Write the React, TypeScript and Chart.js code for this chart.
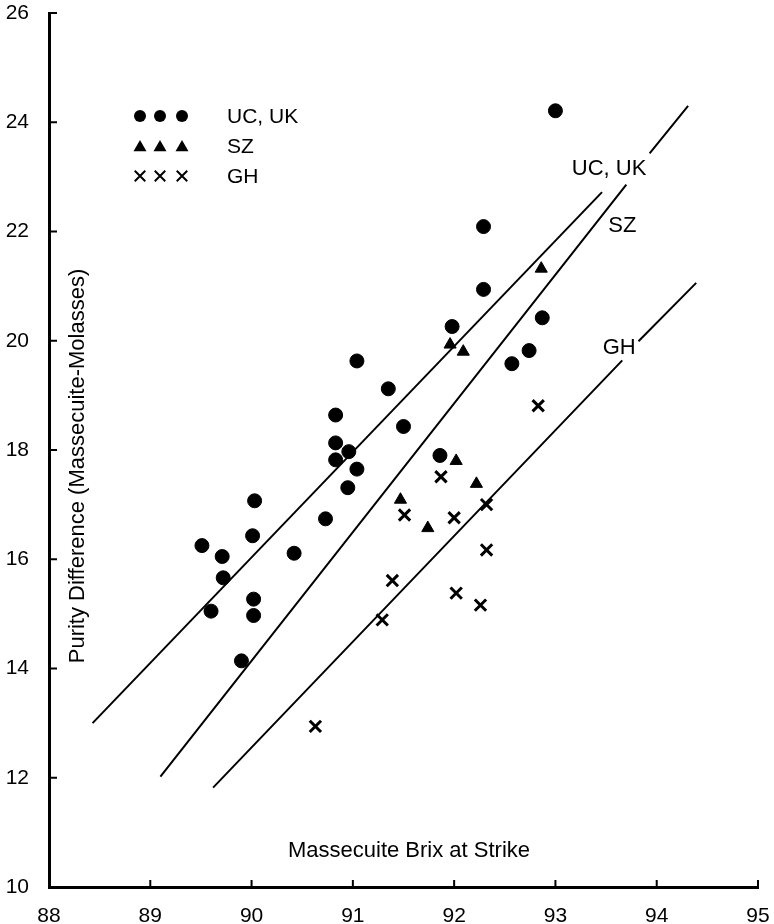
import React, { useEffect, useRef } from 'react';
import { Chart, registerables } from 'chart.js';

Chart.register(...registerables);

const FONT = '"Liberation Sans", Arial, Helvetica, sans-serif';

// Axis ticks
const xTicks = [88, 89, 90, 91, 92, 93, 94, 95];
const yTicks = [10, 12, 14, 16, 18, 20, 22, 24, 26];

// Series names
const seriesNames = ['UC, UK', 'SZ', 'GH'];

// UC, UK (circles)
const ucukX = [93.0, 92.29, 92.29, 92.87, 91.98, 92.74, 92.57, 91.04, 91.35, 90.83, 91.5, 90.83, 90.96, 90.83, 91.04, 91.86, 90.95, 90.03, 90.73, 90.01, 89.51, 89.71, 90.42, 89.72, 89.6, 90.02, 90.02, 89.9];
const ucukY = [24.21, 22.09, 20.94, 20.42, 20.26, 19.82, 19.58, 19.63, 19.12, 18.64, 18.43, 18.13, 17.97, 17.82, 17.65, 17.9, 17.31, 17.07, 16.74, 16.43, 16.25, 16.05, 16.11, 15.66, 15.05, 15.27, 14.97, 14.14];

// SZ (triangles)
const szX = [92.86, 91.96, 92.09, 92.02, 92.22, 91.47, 91.74];
const szY = [21.32, 19.93, 19.8, 17.8, 17.38, 17.09, 16.57];

// GH (crosses)
const ghX = [92.83, 91.87, 91.51, 92.0, 92.32, 92.32, 91.39, 92.02, 92.26, 91.29, 90.63];
const ghY = [18.81, 17.51, 16.81, 16.76, 17.0, 16.17, 15.61, 15.38, 15.16, 14.89, 12.94];

// Fitted lines (null = break where a label sits)
const ucukLineX = [88.43, 93.46];
const ucukLineY = [13.0, 22.72];
const szLineX = [89.1, 93.7, 93.8, 93.93, 94.31];
const szLineY: (number | null)[] = [12.02, 22.86, null, 23.43, 24.3];
const ghLineX = [89.62, 93.66, 93.74, 93.82, 94.39];
const ghLineY: (number | null)[] = [11.82, 19.64, null, 19.99, 21.06];

// Line labels (data coordinates)
const lineLabelX = [93.53, 93.66, 93.63];
const lineLabelY = [23.15, 22.1, 19.86];

const xTitle = 'Massecuite Brix at Strike';
const yTitle = 'Purity Difference (Massecuite-Molasses)';

const zip = (xs: number[], ys: (number | null)[]) => xs.map((x, i) => ({ x, y: ys[i] }));

function drawMarker(ctx: CanvasRenderingContext2D, style: string, x: number, y: number, r: number) {
  ctx.beginPath();
  if (style === 'circle') {
    ctx.arc(x, y, r, 0, Math.PI * 2);
    ctx.fill();
  } else if (style === 'triangle') {
    for (let k = 0; k < 3; k++) {
      const a = (k * 2 * Math.PI) / 3;
      const px = x + Math.sin(a) * r;
      const py = y - Math.cos(a) * r + r * 0.2;
      if (k === 0) ctx.moveTo(px, py);
      else ctx.lineTo(px, py);
    }
    ctx.closePath();
    ctx.fill();
  } else {
    const d = r * 0.7;
    ctx.moveTo(x - d, y - d);
    ctx.lineTo(x + d, y + d);
    ctx.moveTo(x + d, y - d);
    ctx.lineTo(x - d, y + d);
    ctx.stroke();
  }
}

const overlay = {
  id: 'overlay',
  afterDraw(chart: any) {
    const { ctx, chartArea, scales } = chart;
    const xs = scales.x;
    const ys = scales.y;
    ctx.save();
    ctx.strokeStyle = '#000';
    ctx.fillStyle = '#000';
    ctx.lineWidth = 2;
    // inward tick marks
    xs.ticks.forEach((t: any) => {
      const px = xs.getPixelForValue(t.value);
      ctx.beginPath();
      ctx.moveTo(px, chartArea.bottom);
      ctx.lineTo(px, chartArea.bottom - 7);
      ctx.stroke();
    });
    ys.ticks.forEach((t: any) => {
      const py = ys.getPixelForValue(t.value);
      ctx.beginPath();
      ctx.moveTo(chartArea.left, py);
      ctx.lineTo(chartArea.left + 8, py);
      ctx.stroke();
    });

    // axis titles (inside the plot frame)
    ctx.font = `22px ${FONT}`;
    ctx.textAlign = 'center';
    ctx.textBaseline = 'alphabetic';
    ctx.fillText(xTitle, 409, chartArea.bottom - 30);
    ctx.save();
    ctx.translate(chartArea.left + 35, 466);
    ctx.rotate(-Math.PI / 2);
    ctx.fillText(yTitle, 0, 0);
    ctx.restore();

    // line labels
    ctx.font = `22px ${FONT}`;
    ctx.textAlign = 'center';
    ctx.textBaseline = 'middle';
    seriesNames.forEach((name, i) => {
      ctx.fillText(name, xs.getPixelForValue(lineLabelX[i]), ys.getPixelForValue(lineLabelY[i]));
    });

    // legend
    const styles = ['circle', 'triangle', 'cross'];
    const sizes = [6, 7.5, 7.5];
    ctx.font = `21px ${FONT}`;
    ctx.textAlign = 'left';
    seriesNames.forEach((name, i) => {
      const y = 116 + i * 30;
      ctx.lineWidth = 2;
      [140, 160, 182].forEach((x) => drawMarker(ctx, styles[i], x, y, sizes[i]));
      ctx.fillText(name, 227, y + 1);
    });
    ctx.restore();
  },
};

export default function App() {
  const ref = useRef<HTMLCanvasElement>(null);
  useEffect(() => {
    if (!ref.current) return;
    const chart = new Chart(ref.current, {
      type: 'scatter',
      data: {
        datasets: [
          {
            label: 'UC, UK line',
            data: zip(ucukLineX, ucukLineY),
            showLine: true,
            borderColor: '#000',
            borderWidth: 2,
            pointRadius: 0,
            spanGaps: false,
          },
          {
            label: 'SZ line',
            data: zip(szLineX, szLineY),
            showLine: true,
            borderColor: '#000',
            borderWidth: 2,
            pointRadius: 0,
            spanGaps: false,
          },
          {
            label: 'GH line',
            data: zip(ghLineX, ghLineY),
            showLine: true,
            borderColor: '#000',
            borderWidth: 2,
            pointRadius: 0,
            spanGaps: false,
          },
          {
            label: seriesNames[0],
            data: zip(ucukX, ucukY),
            pointStyle: 'circle',
            pointRadius: 7,
            backgroundColor: '#000',
            borderColor: '#000',
            borderWidth: 1,
          },
          {
            label: seriesNames[1],
            data: zip(szX, szY),
            pointStyle: 'triangle',
            pointRadius: 7,
            backgroundColor: '#000',
            borderColor: '#000',
            borderWidth: 1,
          },
          {
            label: seriesNames[2],
            data: zip(ghX, ghY),
            pointStyle: 'crossRot',
            pointRadius: 8,
            backgroundColor: '#000',
            borderColor: '#000',
            borderWidth: 3,
          },
        ],
      } as any,
      options: {
        animation: false,
        responsive: false,
        devicePixelRatio: 1,
        layout: { padding: { top: 13, right: 16, left: 0, bottom: 0 } },
        plugins: { legend: { display: false }, tooltip: { enabled: false } },
        scales: {
          x: {
            type: 'linear',
            min: xTicks[0],
            max: xTicks[xTicks.length - 1],
            afterBuildTicks: (s: any) => {
              s.ticks = xTicks.map((v) => ({ value: v }));
            },
            afterFit: (s: any) => {
              s.height = 37;
              s.paddingLeft = 0;
              s.paddingRight = 0;
            },
            grid: { display: false, drawTicks: false },
            border: { display: true, color: '#000', width: 3 },
            ticks: {
              autoSkip: false,
              maxRotation: 0,
              padding: 17,
              color: '#000',
              font: { size: 21, family: FONT },
            },
          },
          y: {
            type: 'linear',
            min: yTicks[0],
            max: yTicks[yTicks.length - 1],
            afterBuildTicks: (s: any) => {
              s.ticks = yTicks.map((v) => ({ value: v }));
            },
            afterFit: (s: any) => {
              s.width = 49;
              s.paddingTop = 0;
              s.paddingBottom = 0;
            },
            grid: { display: false, drawTicks: false },
            border: { display: true, color: '#000', width: 3 },
            ticks: {
              autoSkip: false,
              padding: 20,
              color: '#000',
              font: { size: 21, family: FONT },
            },
          },
        },
      } as any,
      plugins: [overlay],
    });
    return () => chart.destroy();
  }, []);
  return (
    <div style={{ position: 'fixed', left: 0, top: 0, width: 774, height: 924, background: '#fff' }}>
      <canvas ref={ref} width={774} height={924} style={{ display: 'block', width: 774, height: 924 }} />
    </div>
  );
}
